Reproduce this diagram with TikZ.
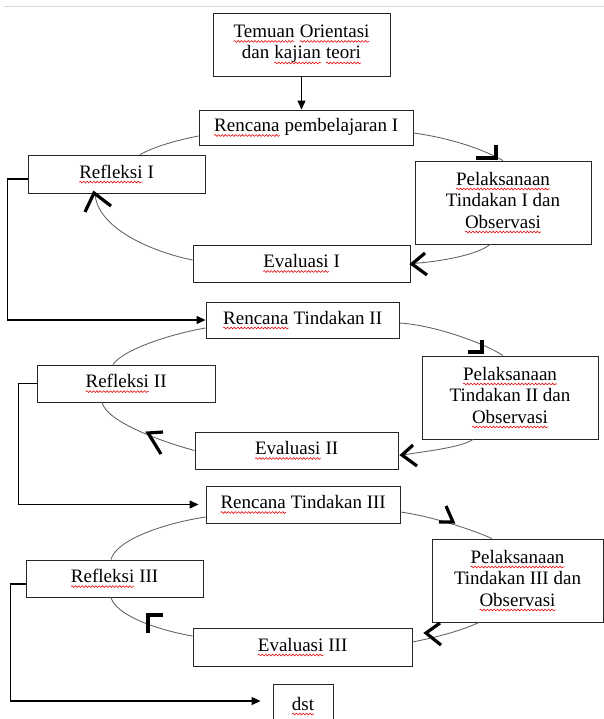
\documentclass[tikz,border=0pt]{standalone}
\usepackage{fontspec}
\setmainfont{Liberation Serif}
\usetikzlibrary{arrows.meta,decorations.pathmorphing}
\newcommand\sq[1]{\tikz[baseline=(w.base),x=1cm,y=1cm]{\node[inner sep=0pt,outer sep=0pt,minimum width=0pt,minimum height=0pt,draw=none,fill=none,anchor=base](w) at (0,0) {#1};
  \draw[red!90!black, line width=0.55pt, decorate, decoration={snake, amplitude=0.9pt, segment length=3.4pt}]
   ([yshift=-4pt]w.base west) -- ([yshift=-4pt]w.base east);}}
\begin{document}
\begin{tikzpicture}[x=1pt,y=-1pt,
  box/.style={draw=black!85, line width=0.9pt, fill=white, inner sep=0pt, align=center,
    font=\fontsize{19}{21.5}\selectfont},
  cyc/.style={draw=black!62, line width=0.85pt},
  conn/.style={draw=black, line width=1.1pt, -{Triangle[length=9pt,width=8pt]}},
  chev/.style={draw=black, line width=3.2pt, line join=miter}]
\path[use as bounding box, fill=white] (0,0) rectangle (604,719);
\clip (0,0) rectangle (604,719);
\draw[black!15, line width=1pt] (4,7) -- (604,7);

% boxes
\node[box, minimum width=177pt, minimum height=63pt] (temuan) at (301.5,44.5) {\sq{Temuan} \sq{Orientasi}\\dan \sq{kajian} \sq{teori}};
\node[box, minimum width=214pt, minimum height=35pt] (ren1) at (306,127.5) {\sq{Rencana} pembelajaran I};
\node[box, minimum width=177pt, minimum height=38pt] (ref1) at (116.5,174) {\sq{Refleksi} I};
\node[box, minimum width=176pt, minimum height=83pt] (pel1) at (503,202.5) {\sq{Pelaksanaan}\\Tindakan I dan\\\sq{Observasi}};
\node[box, minimum width=217pt, minimum height=37pt] (eva1) at (301.5,263.5) {\sq{Evaluasi} I};

\node[box, minimum width=193pt, minimum height=36pt] (ren2) at (302.5,320) {\sq{Rencana} Tindakan II};
\node[box, minimum width=178pt, minimum height=37pt] (ref2) at (126,383.5) {\sq{Refleksi} II};
\node[box, minimum width=176pt, minimum height=83pt] (pel2) at (510,397.5) {\sq{Pelaksanaan}\\Tindakan II dan\\\sq{Observasi}};
\node[box, minimum width=203pt, minimum height=37pt] (eva2) at (296.5,450.5) {\sq{Evaluasi} II};

\node[box, minimum width=194pt, minimum height=37pt] (ren3) at (303,504.5) {\sq{Rencana} Tindakan III};
\node[box, minimum width=177pt, minimum height=37pt] (ref3) at (114.5,578.5) {\sq{Refleksi} III};
\node[box, minimum width=171pt, minimum height=83pt] (pel3) at (517.5,580.5) {\sq{Pelaksanaan}\\Tindakan III dan\\\sq{Observasi}};
\node[box, minimum width=219pt, minimum height=38pt] (eva3) at (302.5,647) {\sq{Evaluasi} III};

\node[box, minimum width=60pt, minimum height=44pt] (dst) at (303,706) {\sq{dst}};

% straight connectors
\draw[conn] (temuan.south) -- (temuan.south |- ren1.north);
\draw[conn] ([yshift=-5pt]ref1.west) -- ++(-20,0) |- (ren2.west);
\draw[conn, shorten >=7pt] (ref2.west) -- ++(-18,0) |- (ren3.west);
\draw[conn, shorten >=12pt] ([yshift=-5.5pt]ref3.west) -- ++(-15,0) |- ([yshift=5pt]dst.west);

% cycle I
\draw[cyc] ([yshift=-5.5pt]ren1.east) .. controls +(30,4) and +(-25,-14) .. (pel1.north);
\draw[cyc] ([xshift=-13pt]pel1.south) .. controls +(-12,10) and +(30,-2) .. ([xshift=2pt]eva1.east);
\draw[cyc] ([yshift=3.5pt]eva1.west) .. controls +(-40,-8) and +(2,35) .. ([xshift=-21.5pt]ref1.south);
\draw[cyc] ([xshift=23.5pt]ref1.north) .. controls +(15,-8) and +(-25,5) .. ([yshift=-8.5pt]ren1.west);

% cycle II
\draw[cyc] ([yshift=-3pt]ren2.east) .. controls +(35,2) and +(-18,-12) .. ([xshift=-7pt]pel2.north);
\draw[cyc] ([xshift=-37pt]pel2.south) .. controls +(-12,8) and +(25,-4) .. ([shift={(4pt,-4.5pt)}]eva2.east);
\draw[cyc] (eva2.west) .. controls +(-30,-8) and +(5,20) .. ([xshift=-24pt]ref2.south);
\draw[cyc] ([xshift=-13pt]ref2.north) .. controls +(10,-15) and +(-35,6) .. ([yshift=-8pt]ren2.west);

% cycle III
\draw[cyc] ([yshift=-7.5pt]ren3.east) .. controls +(30,4) and +(-20,-9) .. ([xshift=-25.5pt]pel3.north);
\draw[cyc] ([xshift=-38.5pt]pel3.south) .. controls +(-15,7) and +(30,-6) .. ([yshift=5pt]eva3.east);
\draw[cyc] ([yshift=11pt]eva3.west) .. controls +(-35,-6) and +(5,18) .. ([xshift=-3.5pt]ref3.south);
\draw[cyc] ([xshift=-3.5pt]ref3.north) .. controls +(5,-20) and +(-40,6) .. ([yshift=-12.5pt]ren3.west);

% arrowhead marks
\draw[chev] (476,158) -- (496,158) -- (496,145);
\draw[chev] (425,253) -- (412,264) -- (427,275);
\draw[chev] (85,212) -- (94,193) -- (111,206);
\draw[chev] (468,352) -- (482,352) -- (482,340);
\draw[chev] (413,445) -- (402,455) -- (417,466);
\draw[chev] (163,432) -- (148,433) -- (161,454);
\draw[chev] (439,522) -- (453,522) -- (446,506);
\draw[chev] (440,623) -- (426,633) -- (441,645);
\draw[chev] (163,615) -- (148,615) -- (148,633);
\end{tikzpicture}
\end{document}
